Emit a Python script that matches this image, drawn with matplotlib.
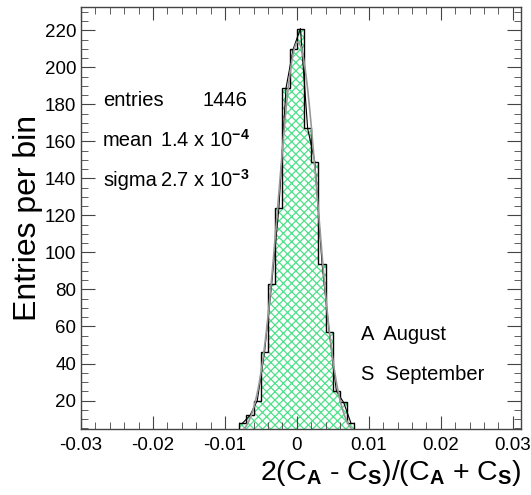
import numpy as np
import matplotlib.pyplot as plt
from matplotlib.ticker import MultipleLocator

plt.rcParams['font.family'] = ['Liberation Sans', 'DejaVu Sans']
plt.rcParams['mathtext.fontset'] = 'custom'
plt.rcParams['mathtext.rm'] = 'Liberation Sans'
plt.rcParams['mathtext.it'] = 'Liberation Sans:italic'
plt.rcParams['mathtext.bf'] = 'Liberation Sans:bold'
plt.rcParams['hatch.linewidth'] = 0.9

# histogram of 2(CA-CS)/(CA+CS), bins of 0.001 from -0.008 to 0.008
bin_edges = np.linspace(-0.008, 0.008, 17)
counts = [8, 12, 20, 46, 83, 124, 189, 210,
          221, 167, 149, 94, 57, 25, 19, 8]

# fit results shown in the box
n_entries = 1446
fit_mean = 1.4e-4
fit_sigma = 2.7e-3

x_ticks = [-0.03, -0.02, -0.01, 0, 0.01, 0.02, 0.03]
x_ticklabels = ['-0.03', '-0.02', '-0.01', '0', '0.01', '0.02', '0.03']
y_ticks = [20, 40, 60, 80, 100, 120, 140, 160, 180, 200, 220]

fig = plt.figure(figsize=(5.31, 4.95), dpi=100)
ax = fig.add_axes([0.1525, 0.1333, 0.828, 0.852])

counts = np.array(counts)
centers = 0.5 * (bin_edges[:-1] + bin_edges[1:])
width = bin_edges[1] - bin_edges[0]

# hatched fill
ax.bar(bin_edges[:-1], counts, width=width, align='edge', color='white',
       edgecolor='#4fe08a', hatch='xxxx', linewidth=0, zorder=1)
# black outline
ax.stairs(counts, bin_edges, color='black', linewidth=1.0, zorder=3)
# polyline through bin tops
ax.plot(centers, counts, color='black', linewidth=0.8, zorder=3)

# gaussian fit
xs = np.linspace(-0.0086, 0.0089, 300)
amp = n_entries * width / (fit_sigma * np.sqrt(2 * np.pi))
ax.plot(xs, amp * np.exp(-0.5 * ((xs - fit_mean) / fit_sigma) ** 2),
        color='#999999', linewidth=1.2, zorder=4)

ax.set_xlim(-0.03, 0.0311)
ax.set_ylim(4.6, 232.5)
ax.set_xticks(x_ticks)
ax.set_xticklabels(x_ticklabels)
ax.set_yticks(y_ticks)
ax.xaxis.set_minor_locator(MultipleLocator(0.002))
ax.yaxis.set_minor_locator(MultipleLocator(5))
ax.tick_params(which='both', direction='in', top=True, right=True,
               labelsize=13.5, color='#444444')
ax.tick_params(axis='x', which='major', length=9.5, pad=6)
ax.tick_params(axis='y', which='major', length=10, pad=3.5)
ax.tick_params(which='minor', length=5)
for s in ax.spines.values():
    s.set_color('#444444')
    s.set_linewidth(1.0)

fig.text(28 / 531, 1 - 218 / 495, 'Entries per bin', fontsize=23,
         rotation=90, ha='center', va='center')
fig.text(0.982, 0.045,
         r'2(C$_\mathbf{A}$ - C$_\mathbf{S}$)/(C$_\mathbf{A}$ + C$_\mathbf{S}$)',
         fontsize=20.5, ha='right', va='center')

# stats box text
fs = 14.5
fig.text(103 / 531, 1 - 100 / 495, 'entries', fontsize=fs, va='center')
fig.text(202 / 531, 1 - 100 / 495, str(n_entries), fontsize=fs, va='center')
fig.text(103 / 531, 1 - 140 / 495, 'mean', fontsize=fs, va='center')
fig.text(160 / 531, 1 - 140 / 495, r'1.4 x 10$^\mathbf{-4}$', fontsize=fs, va='center')
fig.text(103 / 531, 1 - 180 / 495, 'sigma', fontsize=fs, va='center')
fig.text(160 / 531, 1 - 180 / 495, r'2.7 x 10$^\mathbf{-3}$', fontsize=fs, va='center')

fig.text(361 / 531, 1 - 334 / 495, 'A  August', fontsize=fs, va='center')
fig.text(361 / 531, 1 - 374 / 495, 'S  September', fontsize=fs, va='center')

fig.savefig('out.png', dpi=100)
